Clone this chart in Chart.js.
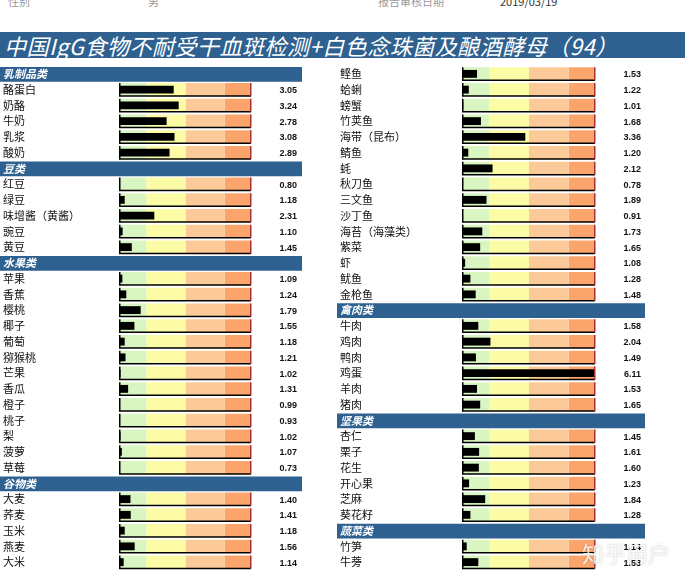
<!DOCTYPE html>
<html>
<head>
<meta charset="utf-8">
<script src="https://cdn.jsdelivr.net/npm/chart.js@4"></script>
<style>
  body { margin: 0; background: #fff; width: 685px; height: 570px; overflow: hidden; position: relative; font-family: "Noto Sans CJK SC", sans-serif; }
  #top { position: absolute; top: -7px; left: 0; width: 685px; font-size: 11px; color: #999; }
  #top span { position: absolute; }
  #titulo { position: absolute; left: 0; top: 32px; width: 685px; height: 26px; background: #2e6190; color: #fff;
    font: italic 22px "Noto Sans CJK SC", serif; line-height: 26px; padding-left: 4px; box-sizing: border-box; white-space: nowrap; letter-spacing: 0.5px; }
  .col { position: absolute; top: 66px; height: 504px; }
  #marca { position: absolute; left: 582px; top: 536px; font-size: 22px; color: rgba(255,255,255,0.85); text-shadow: 0 0 2px rgba(0,0,0,0.25); }
</style>
</head>
<body>
<div id="top"><span style="left:8px">性别</span><span style="left:148px">男</span><span style="left:378px">报告审核日期</span><span style="left:500px;color:#333">2019/03/19</span></div>
<div id="titulo">中国IgG食物不耐受干血斑检测+白色念珠菌及酿酒酵母（94）</div>
<div class="col" style="left:0;width:305px"><canvas id="izq"></canvas></div>
<div class="col" style="left:337px;width:348px"><canvas id="der"></canvas></div>
<div id="marca">知乎用户</div>
<script>
// Datos
const secIzq = ["乳制品类", "豆类", "水果类", "谷物类"];
const nomIzq = [
  ["酪蛋白", "奶酪", "牛奶", "乳浆", "酸奶"],
  ["红豆", "绿豆", "味增酱（黄酱）", "豌豆", "黄豆"],
  ["苹果", "香蕉", "樱桃", "椰子", "葡萄", "猕猴桃", "芒果", "香瓜", "橙子", "桃子", "梨", "菠萝", "草莓"],
  ["大麦", "荞麦", "玉米", "燕麦", "大米"]
];
const valIzq = [
  [3.05, 3.24, 2.78, 3.08, 2.89],
  [0.80, 1.18, 2.31, 1.10, 1.45],
  [1.09, 1.24, 1.79, 1.55, 1.18, 1.21, 1.02, 1.31, 0.99, 0.93, 1.02, 1.07, 0.73],
  [1.40, 1.41, 1.18, 1.56, 1.14]
];
const secDer = [null, "禽肉类", "坚果类", "蔬菜类"];
const nomDer = [
  ["鲣鱼", "蛤蜊", "螃蟹", "竹荚鱼", "海带（昆布）", "鲭鱼", "蚝", "秋刀鱼", "三文鱼", "沙丁鱼", "海苔（海藻类）", "紫菜", "虾", "鱿鱼", "金枪鱼"],
  ["牛肉", "鸡肉", "鸭肉", "鸡蛋", "羊肉", "猪肉"],
  ["杏仁", "栗子", "花生", "开心果", "芝麻", "葵花籽"],
  ["竹笋", "牛蒡"]
];
const valDer = [
  [1.53, 1.22, 1.01, 1.68, 3.36, 1.20, 2.12, 0.78, 1.89, 0.91, 1.73, 1.65, 1.08, 1.28, 1.48],
  [1.58, 2.04, 1.49, 6.11, 1.53, 1.65],
  [1.45, 1.61, 1.60, 1.23, 1.84, 1.28],
  [1.14, 1.58]
];
// límites de las zonas de color
const zonas = [[1, 2], [2, 3.5], [3.5, 5], [5, 6]];
const coloresZona = ["#d8f5c2", "#fdfca6", "#fcca98", "#fba56c"];

function construirFilas(secs, noms, vals) {
  const filas = [];
  secs.forEach((s, i) => {
    if (s) filas.push({ tipo: "h", texto: s });
    noms[i].forEach((n, j) => filas.push({ tipo: "r", texto: n, valor: vals[i][j] }));
  });
  return filas;
}

function crearGrafica(id, filas, padIzq, padDer, anchoCab, xValor) {
  const etiquetas = filas.map((f, i) => String(i));
  const datasets = zonas.map((z, k) => ({
    data: filas.map(f => f.tipo === "r" ? z : null),
    backgroundColor: coloresZona[k],
    barPercentage: 0.84, categoryPercentage: 1, grouped: false, order: 2
  }));
  datasets.push({
    data: filas.map(f => f.tipo === "r" && f.valor > 1 ? [1, Math.min(f.valor, 6)] : null),
    backgroundColor: "#000",
    barPercentage: 0.5, categoryPercentage: 1, grouped: false, order: 1
  });

  const dibujo = {
    id: "dibujo",
    afterDatasetsDraw(chart) {
      const c = chart.ctx, y = chart.scales.y, x = chart.scales.x;
      const alto = (y.getPixelForValue(1) - y.getPixelForValue(0));
      filas.forEach((f, i) => {
        const py = y.getPixelForValue(i);
        if (f.tipo === "h") {
          c.fillStyle = "#2e6190";
          c.fillRect(0, py - alto / 2 + 1, anchoCab, alto - 1);
          c.fillStyle = "#fff";
          c.font = "italic bold 11px 'Noto Sans CJK SC'";
          c.textBaseline = "middle"; c.textAlign = "left";
          c.fillText(f.texto, 3, py);
          return;
        }
        const h = alto * 0.84;
        c.fillStyle = "#000";
        c.fillRect(x.left - 1, py - h / 2, 1.5, h);
        c.fillRect(x.left - 1, py + h / 2 - 1, x.right - x.left + 1, 1.5);
        c.fillStyle = "#a83232";
        c.fillRect(x.right - 1, py - h / 2, 1.5, h);
        c.fillStyle = "#111";
        c.font = "11px 'Noto Sans CJK SC'";
        c.textBaseline = "middle"; c.textAlign = "left";
        c.fillText(f.texto, 3, py);
        c.font = "bold 9px 'Liberation Sans'";
        c.textAlign = "right";
        c.fillText(f.valor.toFixed(2), xValor, py + 1);
      });
    }
  };

  new Chart(document.getElementById(id), {
    type: "bar",
    data: { labels: etiquetas, datasets },
    options: {
      indexAxis: "y",
      responsive: true, maintainAspectRatio: false, animation: false,
      layout: { padding: { left: padIzq, right: padDer, top: 0, bottom: 0 } },
      plugins: { legend: { display: false }, tooltip: { enabled: false } },
      scales: {
        x: { display: false, min: 1, max: 6 },
        y: { display: false }
      }
    },
    plugins: [dibujo]
  });
}

crearGrafica("izq", construirFilas(secIzq, nomIzq, valIzq), 120, 54, 302, 297);
crearGrafica("der", construirFilas(secDer, nomDer, valDer), 126, 90, 308, 304);
</script>
</body>
</html>
